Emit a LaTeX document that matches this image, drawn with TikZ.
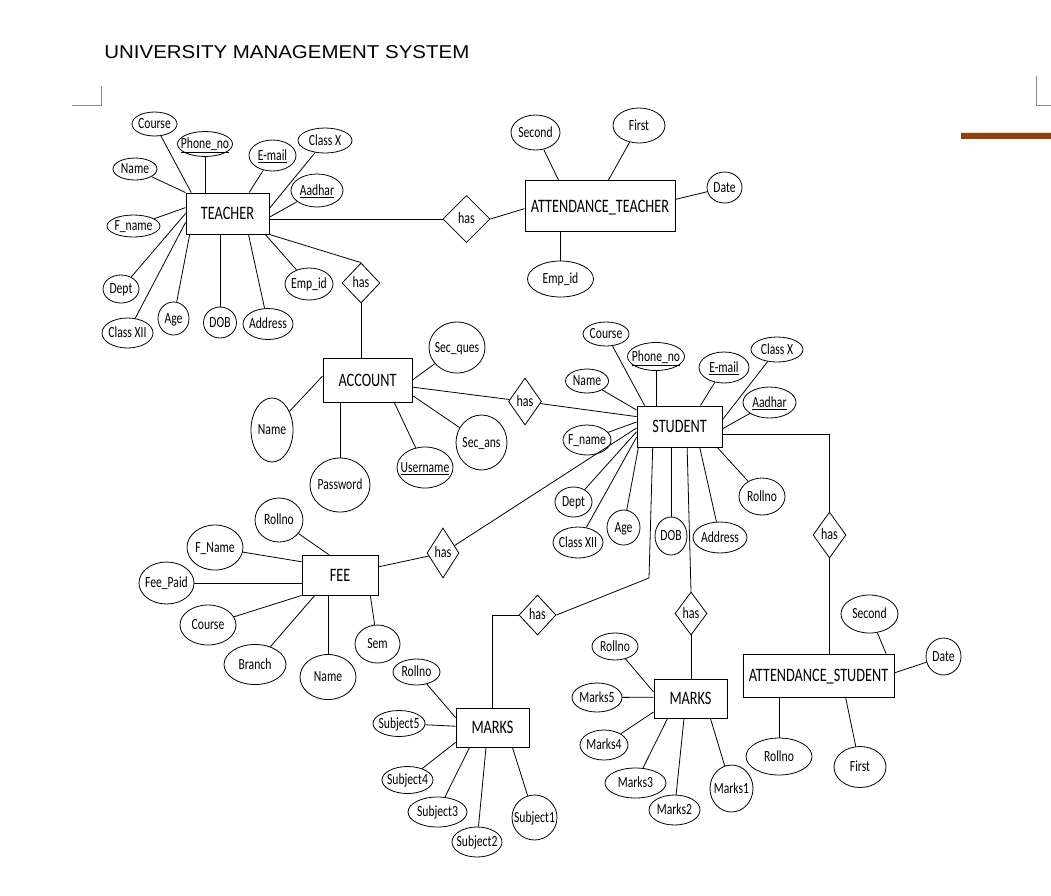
\documentclass[tikz,border=0pt]{standalone}
\usepackage{fontspec}
\setmainfont[FakeStretch=0.75]{Carlito}
\newfontfamily\titlefont[FakeStretch=1.1]{Liberation Sans}
\usetikzlibrary{shapes.geometric}
\definecolor{markgray}{RGB}{140,140,140}
\definecolor{barbrown}{RGB}{139,66,22}
\definecolor{barlight}{RGB}{250,222,185}

\begin{document}
\begin{tikzpicture}[x=1pt,y=-1pt,line width=0.8pt,
    entity/.style={draw,rectangle,line width=0.9pt,inner sep=0pt,font=\fontsize{19}{22}\selectfont,text height=13pt,text depth=1pt},
    attrib/.style 2 args={draw,ellipse,inner sep=-30pt,minimum width=#1,minimum height=#2,font=\fontsize{15.5}{18}\selectfont,text height=11pt,text depth=1.5pt},
    rel/.style 2 args={draw,diamond,inner sep=-30pt,minimum width=#1,minimum height=#2,font=\fontsize{16}{18}\selectfont,text height=11pt,text depth=1.5pt}]
\fill[white] (0,0) rectangle (1051,895);
\useasboundingbox (0,0) rectangle (1051,895);

% page
\node[anchor=west,inner sep=0pt,font=\titlefont\fontsize{18.6}{20}\selectfont] (title) at (104,51.7) {UNIVERSITY MANAGEMENT SYSTEM};
\draw[markgray] (71.7,105.7) -- (101.7,105.7) -- (101.7,85.7);
\draw[markgray] (1051,105) -- (1036.7,105) -- (1036.7,76);
\fill[barbrown] (961,132) rectangle (1051,139);
\draw[barlight,line width=1pt] (961,132) -- (1051,132);

% teacher
\node[entity,minimum width=83,minimum height=41] (teacher) at (227.5,213.5) {TEACHER};
\node[attrib={45}{24}] (tCourse) at (154.5,124) {Course};
\node[attrib={55}{25}] (tPhone) at (205,144) {\underline{Phone\_no}};
\node[attrib={47}{31}] (tMail) at (272.5,155.5) {\underline{E-mail}};
\node[attrib={54}{25}] (tClassX) at (325,140.5) {Class X};
\node[attrib={44}{22}] (tName) at (135,169) {Name};
\node[attrib={52}{33}] (tAadhar) at (317,190.5) {\underline{Aadhar}};
\node[attrib={53}{22}] (tFname) at (133.5,226) {F\_name};
\node[attrib={36}{28}] (tDept) at (121,289) {Dept};
\node[attrib={51}{30}] (tClassXII) at (127.5,333) {Class XII};
\node[attrib={31}{33}] (tAge) at (173.5,318.5) {Age};
\node[attrib={33}{31}] (tDOB) at (220,322.5) {DOB};
\node[attrib={50}{31}] (tAddress) at (268,324) {Address};
\node[attrib={48}{32}] (tEmp) at (309,284) {Emp\_id};
\node[rel={38}{40}] (hasTA) at (361,283) {has};
\draw (tCourse) -- (teacher.150);
\draw (tPhone) -- (tPhone |- teacher.north);
\draw (tMail) -- (teacher.44);
\draw (tClassX) -- (teacher.7);
\draw (tAadhar) -- (teacher.355);
\draw (tName) -- (teacher.north west);
\draw (tFname) -- (teacher.172);
\draw (tDept) -- (teacher.180);
\draw (tClassXII) -- (teacher.192);
\draw (tAge) -- (teacher.209);
\draw (tDOB) -- (tDOB |- teacher.south);
\draw (tAddress) -- (teacher.315);
\draw (tEmp) -- (teacher.331);
\draw (teacher.south east) -- (hasTA.north);

% attendance of teacher
\node[rel={47}{47}] (hasTT) at (466.5,219) {has};
\node[entity,minimum width=150,minimum height=51] (attT) at (600,206) {ATTENDANCE\_TEACHER};
\node[attrib={49}{35}] (aSecond) at (535.5,132.5) {Second};
\node[attrib={52}{35}] (aFirst) at (639,125.5) {First};
\node[attrib={35}{31}] (aDate) at (724.5,187.5) {Date};
\node[attrib={66}{36}] (aEmp) at (560.5,279) {Emp\_id};
\draw (teacher.east |- hasTT) -- (hasTT);
\draw (hasTT.east) -- (attT.182);
\draw (aSecond) -- (attT.148);
\draw (aFirst) -- (attT.72);
\draw (aDate) -- (attT.5);
\draw (aEmp) -- (aEmp |- attT.south);

% account
\node[entity,minimum width=89,minimum height=44] (account) at (367.5,380) {ACCOUNT};
\node[attrib={56}{51}] (cSecQ) at (457,347.5) {Sec\_ques};
\node[attrib={42}{64}] (cName) at (272,430) {Name};
\node[attrib={60}{54}] (cPass) at (340,485) {Password};
\node[attrib={56}{41}] (cUser) at (425,467.5) {\underline{Username}};
\node[attrib={51}{55}] (cSecA) at (481.5,442.5) {Sec\_ans};
\node[rel={33}{47}] (hasAS) at (525,401.5) {has};
\draw (hasTA.south) -- (hasTA |- account.north);
\draw (cSecQ) -- (account.0);
\draw (cName) -- (account.175);
\draw (cPass) -- (cPass |- account.south);
\draw (cUser) -- (account.320);
\draw (cSecA) -- (account.341);
\draw (account.351) -- (hasAS);

% student
\node[entity,minimum width=85,minimum height=41] (student) at (679.5,426.5) {STUDENT};
\node[attrib={46}{24}] (sCourse) at (606,334) {Course};
\node[attrib={57}{28}] (sPhone) at (656,356.5) {\underline{Phone\_no}};
\node[attrib={50}{31}] (sMail) at (724,367.5) {\underline{E-mail}};
\node[attrib={52}{25}] (sClassX) at (777,349.5) {Class X};
\node[attrib={43}{24}] (sName) at (587,381) {Name};
\node[attrib={53}{31}] (sAadhar) at (769.5,402.5) {\underline{Aadhar}};
\node[attrib={48}{30}] (sFname) at (587,440) {F\_name};
\node[attrib={37}{30}] (sDept) at (573.5,502) {Dept};
\node[attrib={50}{31}] (sClassXII) at (578,542.5) {Class XII};
\node[attrib={33}{35}] (sAge) at (623.5,527.5) {Age};
\node[attrib={32}{38}] (sDOB) at (671,536) {DOB};
\node[attrib={54}{31}] (sAddress) at (720,537.5) {Address};
\node[attrib={46}{37}] (sRoll) at (762,496.5) {Rollno};
\draw (hasAS) -- (student.167);
\draw (sCourse) -- (student.149);
\draw (sPhone) -- (sPhone |- student.north);
\draw (sMail) -- (student.45);
\draw (sClassX) -- (student.9);
\draw (sAadhar) -- (student.357);
\draw (sName) -- (student.159);
\draw (sFname) -- (student.174);
\draw (sDept) -- (student.187);
\draw (sClassXII) -- (student.194);
\draw (sAge) -- (student.207);
\draw (sDOB) -- (sDOB |- student.south);
\draw (sAddress) -- (student.314);
\draw (sRoll) -- (student.331);

% fee
\node[entity,minimum width=76,minimum height=40] (fee) at (340,575) {FEE};
\node[attrib={48}{44}] (fRoll) at (279,520) {Rollno};
\node[attrib={56}{45}] (fFname) at (215,547.5) {F\_Name};
\node[attrib={55}{42}] (fPaid) at (166.5,583) {Fee\_Paid};
\node[attrib={56}{40}] (fCourse) at (208,625) {Course};
\node[attrib={62}{40}] (fBranch) at (255,664.5) {Branch};
\node[attrib={56}{45}] (fName) at (328,677) {Name};
\node[attrib={45}{38}] (fSem) at (377.5,644) {Sem};
\node[rel={32}{50}] (hasFS) at (443,553) {has};
\draw (fRoll) -- (fee.119);
\draw (fFname) -- (fee.161);
\draw (fPaid) -- (fPaid -| fee.west);
\draw (fCourse) -- (fee.south west);
\draw (fBranch) -- (fee.219);
\draw (fName) -- (fName |- fee.south);
\draw (fSem) -- (fee.326);
\draw (fee.12) -- (hasFS);
\draw (hasFS) -- (student.182);

% marks of subjects
\node[rel={37}{40}] (hasSM) at (537.5,615) {has};
\node[entity,minimum width=73,minimum height=39] (marksA) at (492.5,727.5) {MARKS};
\coordinate (bendA) at (649,578);
\node[attrib={47}{26}] (mRoll) at (416.5,672) {Rollno};
\node[attrib={52}{26}] (mSub5) at (399,723.5) {Subject5};
\node[attrib={51}{27}] (mSub4) at (407.5,780) {Subject4};
\node[attrib={59}{30}] (mSub3) at (437.5,812) {Subject3};
\node[attrib={50}{30}] (mSub2) at (477,842) {Subject2};
\node[attrib={45}{45}] (mSub1) at (534.5,817.5) {Subject1};
\draw (student.218) -- (bendA) -- (hasSM.east);
\draw (hasSM.west) -| (marksA.north);
\draw (mRoll) -- (marksA.165);
\draw (mSub5) -- (marksA.178);
\draw (mSub4) -- (marksA.202);
\draw (mSub3) -- (marksA.221);
\draw (mSub2) -- (marksA.252);
\draw (mSub1) -- (marksA.315);

% marks
\node[rel={32}{43}] (hasSK) at (691,613.5) {has};
\node[entity,minimum width=73,minimum height=39] (marksB) at (690.5,698.5) {MARKS};
\node[attrib={46}{27}] (kRoll) at (615,646.5) {Rollno};
\node[attrib={50}{29}] (kM5) at (597,697.5) {Marks5};
\node[attrib={48}{30}] (kM4) at (604,745) {Marks4};
\node[attrib={61}{30}] (kM3) at (635.5,783) {Marks3};
\node[attrib={51}{30}] (kM2) at (674.5,810) {Marks2};
\node[attrib={43}{47}] (kM1) at (731.5,788.5) {Marks1};
\draw (student.290) -- (hasSK.north);
\draw (hasSK.south) -- (hasSK |- marksB.north);
\draw (kRoll) -- (marksB.170);
\draw (kM5) -- (marksB.178);
\draw (kM4) -- (marksB.200);
\draw (kM3) -- (marksB.221);
\draw (kM2) -- (marksB.252);
\draw (kM1) -- (marksB.315);

% attendance of student
\node[rel={33}{46}] (hasSA) at (829.5,535) {has};
\node[entity,minimum width=151,minimum height=43] (attS) at (818.5,675.5) {ATTENDANCE\_STUDENT};
\node[attrib={57}{38}] (bSecond) at (869.5,614) {Second};
\node[attrib={35}{37}] (bDate) at (943.5,656.5) {Date};
\node[attrib={66}{37}] (bRoll) at (779,756.5) {Rollno};
\node[attrib={52}{41}] (bFirst) at (860,767) {First};
\draw (student.349) -| (hasSA.north);
\draw (hasSA.south) -- (hasSA |- attS.north);
\draw (bSecond) -- (attS.18);
\draw (bDate) -- (attS.2);
\draw (bRoll) -- (bRoll |- attS.south);
\draw (bFirst) -- (attS.321);
\end{tikzpicture}
\end{document}
